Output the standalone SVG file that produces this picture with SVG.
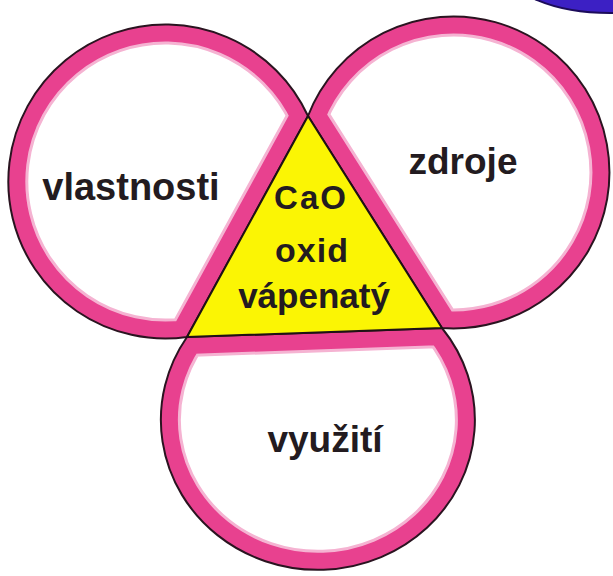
<svg xmlns="http://www.w3.org/2000/svg" width="613" height="576" viewBox="0 0 613 576">
  <style>
    .band-soft { fill: none; stroke: #f5b3d2; stroke-width: 40; stroke-linejoin: round; }
    .band { fill: none; stroke: #e8418f; stroke-width: 34; stroke-linejoin: round; }
    .rim { fill: none; stroke: #2a1420; stroke-width: 2; stroke-linejoin: round; }
    .label { font-family: "Liberation Sans", Arial, "DejaVu Sans", sans-serif; font-weight: bold; fill: #231b20; text-anchor: middle; }
  </style>
  <defs>
    <!-- circles trimmed along the edges of the central triangle -->
    <path id="shape-left" d="M 308 116 A 157 157 0 1 0 187 337 Z"/>
    <path id="shape-right" d="M 308 116 A 156 156 0 1 1 442 328 Z"/>
    <path id="shape-bottom" d="M 187 337 L 442 328 A 157 150 0 1 1 187 337 Z"/>
    <clipPath id="clip-left"><use href="#shape-left"/></clipPath>
    <clipPath id="clip-right"><use href="#shape-right"/></clipPath>
    <clipPath id="clip-bottom"><use href="#shape-bottom"/></clipPath>
  </defs>

  <rect width="613" height="576" fill="#ffffff"/>

  <!-- partial blue shape in the top-right corner -->
  <g id="corner-blob">
    <ellipse cx="610" cy="-30" rx="102" ry="43" fill="#3c20c4" stroke="#1c0c5a" stroke-width="2"/>
  </g>

  <g id="vlastnosti">
    <g clip-path="url(#clip-left)">
      <use href="#shape-left" class="band-soft"/>
      <use href="#shape-left" class="band"/>
    </g>
    <use href="#shape-left" class="rim"/>
    <text class="label" x="131" y="200" font-size="38">vlastnosti</text>
  </g>

  <g id="zdroje">
    <g clip-path="url(#clip-right)">
      <use href="#shape-right" class="band-soft"/>
      <use href="#shape-right" class="band"/>
    </g>
    <use href="#shape-right" class="rim"/>
    <text class="label" x="463" y="174" font-size="37">zdroje</text>
  </g>

  <g id="vyuziti">
    <g clip-path="url(#clip-bottom)">
      <use href="#shape-bottom" class="band-soft"/>
      <use href="#shape-bottom" class="band"/>
    </g>
    <use href="#shape-bottom" class="rim"/>
    <text class="label" x="325" y="452" font-size="37">využití</text>
  </g>

  <g id="cao">
    <polygon points="308,116 442,328 187,337" fill="#fbf504" stroke="#1e1214" stroke-width="2" stroke-linejoin="miter"/>
    <text class="label" x="311" y="209" font-size="33" letter-spacing="2">CaO</text>
    <text class="label" x="312" y="262" font-size="34" letter-spacing="1">oxid</text>
    <text class="label" x="314" y="308" font-size="35">vápenatý</text>
  </g>
</svg>
